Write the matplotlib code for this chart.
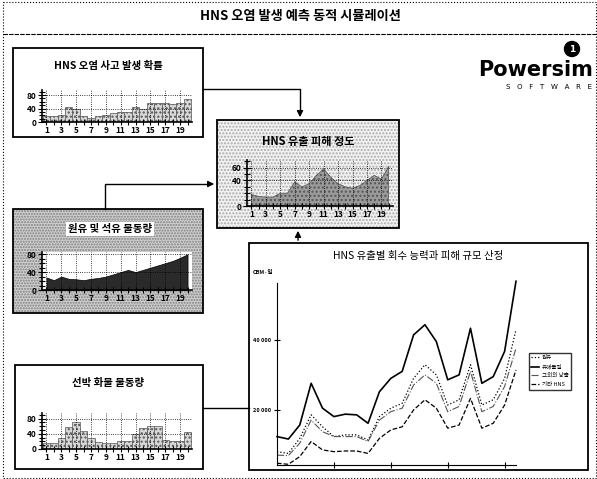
import matplotlib.pyplot as plt
from matplotlib.patches import Rectangle, Circle
from matplotlib.ticker import MultipleLocator

plt.rcParams['font.family'] = ['Noto Sans CJK KR', 'DejaVu Sans']

# data
steps = list(range(1, 21))
odd_labels = ["1", "3", "5", "7", "9", "11", "13", "15", "17", "19"]

accident_prob = [18, 18, 22, 45, 38, 18, 12, 18, 22, 28, 30, 30, 45, 38, 55, 55, 55, 52, 55, 68]
damage_level = [18, 15, 14, 14, 20, 20, 38, 30, 35, 48, 58, 45, 35, 30, 28, 32, 40, 48, 42, 62]
oil_volume = [28, 22, 30, 25, 24, 22, 25, 27, 30, 35, 40, 45, 40, 45, 50, 55, 60, 65, 72, 80]
cargo_volume = [15, 15, 28, 58, 70, 48, 30, 18, 15, 15, 20, 20, 40, 55, 60, 62, 25, 20, 22, 45]

t = list(range(22))
line_solid = [12400, 11700, 15700, 27600, 20500, 18100, 18800, 18600, 16200, 25200, 29000,
              31000, 41400, 44300, 39500, 28600, 30000, 43300, 27600, 29500, 36700, 56700]
line_dot = [8100, 7600, 11900, 18600, 15200, 12400, 12900, 12900, 11400, 18100, 20500,
            21900, 29000, 32900, 30000, 21400, 22900, 32900, 21400, 22900, 29000, 42900]
line_dashdot = [7100, 7000, 10500, 17100, 13800, 12400, 12400, 12400, 11000, 17100, 19500,
                20500, 27100, 30000, 27600, 19500, 21000, 31000, 19500, 21000, 26700, 37600]
line_dash = [4800, 4500, 6700, 11000, 8600, 8100, 8300, 8300, 7600, 11900, 14300,
             15200, 20000, 22900, 20500, 14800, 15700, 23300, 14800, 16200, 21400, 31400]
legend_names = ["원유", "유해물질", "그외의 낭출", "기타 HNS"]

W, H = 597, 479
fig = plt.figure(figsize=(W / 100, H / 100), dpi=100)


def px(x0, y0, x1, y1):
    return [x0 / W, 1 - y1 / H, (x1 - x0) / W, (y1 - y0) / H]


bg = fig.add_axes([0, 0, 1, 1])
bg.set_xlim(0, W)
bg.set_ylim(H, 0)
bg.axis('off')

# outer frame and title band
bg.add_patch(Rectangle((3, 2), W - 4, H - 3, fill=False, ls=':', lw=0.8, ec='k'))
bg.plot([3, W], [34, 34], color='k', lw=0.8, ls=(0, (4, 1)))
bg.text(300, 16, "HNS 오염 발생 예측 동적 시뮬레이션", ha='center', va='center',
        fontsize=9.5, fontweight='bold')

# logo
bg.add_patch(Circle((572, 49), 7.5, color='k'))
bg.text(572, 49, "1", color='white', fontsize=6.5, fontweight='bold', ha='center', va='center',
        family='DejaVu Sans')
bg.text(593, 70, "Powersim", ha='right', va='center', fontsize=15, fontweight='heavy',
        family='DejaVu Sans')
bg.text(592, 87, "S   O   F   T   W   A   R   E", ha='right', va='center', fontsize=5,
        family='DejaVu Sans')

# boxes: (x0, y0, x1, y1)
box1 = (13, 48, 203, 137)
box2 = (217, 120, 399, 228)
box3 = (13, 209, 203, 313)
box4 = (15, 365, 203, 469)
big = (249, 243, 588, 470)


def frame(b, face=None, hatch=None, hcol='#888888'):
    x0, y0, x1, y1 = b
    if face is not None:
        bg.add_patch(Rectangle((x0, y0), x1 - x0, y1 - y0, fc=face, ec=hcol,
                               hatch=hatch, lw=0))
    bg.add_patch(Rectangle((x0, y0), x1 - x0, y1 - y0, fill=False, ec='k', lw=1.3))


frame(box1)
frame(box2, face='#f2f2f2', hatch='.....', hcol='#aaaaaa')
frame(box3, face='#cfcfcf', hatch='......', hcol='#808080')
frame(box4)
frame(big)

# connectors
bg.plot([203, 300, 300], [89, 89, 112], color='k', lw=1)
bg.annotate('', xy=(300, 120), xytext=(300, 108),
            arrowprops=dict(arrowstyle='-|>', color='k', lw=1, mutation_scale=9))
bg.plot([105, 105, 208], [209, 184, 184], color='k', lw=1)
bg.annotate('', xy=(217, 184), xytext=(206, 184),
            arrowprops=dict(arrowstyle='-|>', color='k', lw=1, mutation_scale=9))
bg.annotate('', xy=(298, 228), xytext=(298, 243),
            arrowprops=dict(arrowstyle='-|>', color='k', lw=1, mutation_scale=9))
bg.plot([203, 249], [408, 408], color='k', lw=1)

# box titles
bg.text(108, 66, "HNS 오염 사고 발생 확률", ha='center', va='center', fontsize=7.5, fontweight='bold')
bg.text(308, 141, "HNS 유출 피해 정도", ha='center', va='center', fontsize=8, fontweight='bold')
bg.text(110, 229, "원유 및 석유 물동량", ha='center', va='center', fontsize=7.5, fontweight='bold',
        bbox=dict(fc='white', ec='none', pad=1.5))
bg.text(108, 383, "선박 화물 물동량", ha='center', va='center', fontsize=7.5, fontweight='bold')


def small_axes(rect, yticks, ylim, face='none'):
    ax = fig.add_axes(px(*rect))
    ax.set_facecolor(face)
    ax.set_xlim(0.4, 20.6)
    ax.set_ylim(*ylim)
    for s in ['top', 'right']:
        ax.spines[s].set_visible(False)
    ax.spines['left'].set_linewidth(1.2)
    ax.spines['bottom'].set_linewidth(1.2)
    ax.set_xticks(steps, minor=True)
    ax.set_xticks(list(range(1, 20, 2)))
    ax.set_xticklabels(odd_labels, fontsize=6, fontweight='bold')
    ax.set_yticks(yticks)
    ax.set_yticklabels([str(v) for v in yticks], fontsize=6, fontweight='bold')
    ax.yaxis.set_minor_locator(MultipleLocator(10))
    ax.tick_params(axis='both', which='both', direction='inout', length=4, width=0.8, pad=1)
    ax.tick_params(axis='y', which='major', length=6)
    ax.grid(True, axis='both', which='major', ls=':', lw=0.6, color='k')
    return ax


a1 = small_axes((42, 90, 192, 122), [0, 40, 80], (0, 95))
a1.bar(steps, accident_prob, width=1, color='#d8d8d8', edgecolor='#555555', hatch='....', lw=0.5)

a2 = small_axes((247, 160, 393, 206), [0, 40, 60], (0, 72))
a2.fill_between(steps, damage_level, color='#9a9a9a', hatch='....', edgecolor='#555555', lw=0.5)

a3 = small_axes((42, 252, 192, 290), [0, 40, 80], (0, 85), face='white')
a3.fill_between(steps, oil_volume, color='#2a2a2a', edgecolor='k', lw=0.5)

a4 = small_axes((42, 413, 192, 449), [0, 40, 80], (0, 95))
a4.bar(steps, cargo_volume, width=1, color='#d8d8d8', edgecolor='#555555', hatch='....', lw=0.5)

# main chart
bg.text(418, 256, "HNS 유출별 회수 능력과 피해 규모 산정", ha='center', va='center', fontsize=7.5)
ax = fig.add_axes(px(277, 283, 516, 465))
ax.set_xlim(0, 21)
ax.set_ylim(4300, 56200)
l1, = ax.plot(t, line_dot, color='k', ls=':', lw=0.9, clip_on=False)
l2, = ax.plot(t, line_solid, color='k', ls='-', lw=1.2, clip_on=False)
l3, = ax.plot(t, line_dashdot, color='#555555', ls='-.', lw=0.8, clip_on=False)
l4, = ax.plot(t, line_dash, color='k', ls='--', lw=0.9, clip_on=False)
for s in ['top', 'right']:
    ax.spines[s].set_visible(False)
ax.set_xticks([5, 10, 15, 20])
ax.set_xticklabels([])
ax.set_yticks([20000, 40000])
ax.set_yticklabels(["20 000", "40 000"], fontsize=4, fontweight='bold')
ax.tick_params(axis='both', direction='inout', length=5, width=0.8, pad=2)
ax.text(-0.06, 1.06, "CBM·일", transform=ax.transAxes, fontsize=4, fontweight='bold',
        ha='center', va='center')
leg = fig.legend([l1, l2, l3, l4], legend_names, loc='upper left',
                 bbox_to_anchor=(526 / W, 1 - 350 / H), fontsize=4, frameon=True,
                 fancybox=False, edgecolor='k', handlelength=1.5, borderpad=0.4,
                 labelspacing=0.7, handletextpad=0.5)
leg.get_frame().set_linewidth(1)

fig.savefig("out.png", dpi=100)
